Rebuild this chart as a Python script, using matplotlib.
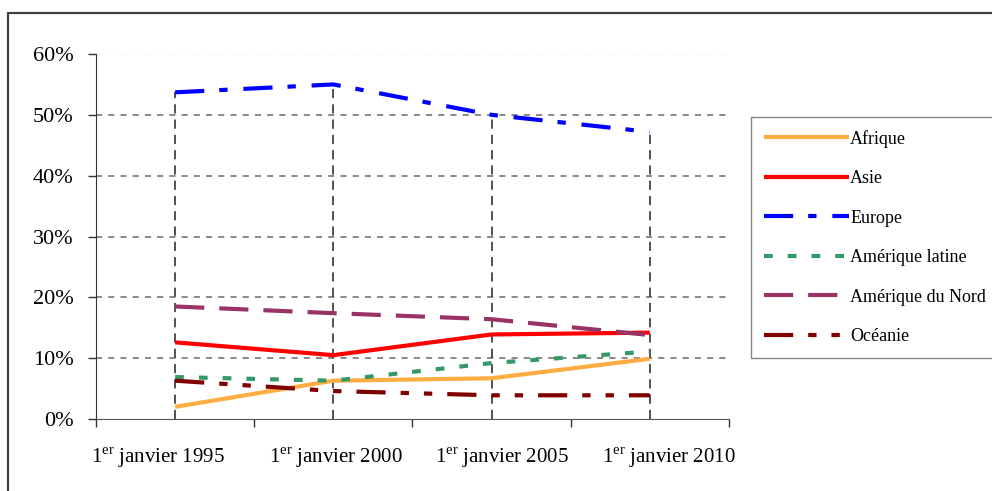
import numpy as np
import matplotlib
matplotlib.use('Agg')
import matplotlib.pyplot as plt
import matplotlib.transforms as mtransforms
from matplotlib.patches import Rectangle

plt.rcParams['font.family'] = ['Liberation Serif', 'DejaVu Serif']
plt.rcParams['mathtext.fontset'] = 'custom'
plt.rcParams['mathtext.rm'] = 'Liberation Serif'

### data (share in %)
years = ['1995', '2000', '2005', '2010']
afrique = [2.0, 6.3, 6.7, 9.9]
asie = [12.6, 10.5, 13.9, 14.2]
europe = [53.7, 55.0, 50.0, 47.2]
amerique_latine = [6.9, 6.3, 9.2, 11.1]
amerique_nord = [18.5, 17.4, 16.4, 13.8]
oceanie = [6.3, 4.6, 3.9, 3.9]

series_names = ['Afrique', 'Asie', 'Europe', 'Amérique latine',
                'Amérique du Nord', 'Océanie']
yticks = [0, 10, 20, 30, 40, 50, 60]


def main():
    series = [afrique, asie, europe, amerique_latine, amerique_nord, oceanie]
    colors = ['#FFAD42', '#FF0000', '#0000FF', '#339966', '#993366', '#800000']
    dashes = [None, None, (7, 3.6, 2, 3.8), (2.1, 3.6),
              (7, 3.6), (7, 3.6, 2, 3.6, 2, 3.6)]

    plt.close('all')
    fig = plt.figure(figsize=(9.92, 4.91), dpi=100)
    ax = fig.add_axes([0.0968, 0.1466, 0.638, 0.7434])

    x = np.arange(len(years))
    handles = []
    for vals, name, c, d in zip(series, series_names, colors, dashes):
        line, = ax.plot(x, vals, color=c, lw=3, label=name, zorder=3,
                        solid_capstyle='butt')
        if d is not None:
            line.set_dashes(d)
        handles.append(line)

    # drop lines from the top series down to the axis
    tops = np.max(np.array(series), axis=0)
    ax.vlines(x, 0, tops, colors='#222222', linestyles=(0, (6, 4)),
              lw=1.1, zorder=2)

    ax.set_xlim(-0.5, len(years) - 0.5)
    ax.set_ylim(0, 60)
    ax.set_yticks(yticks)
    ax.set_yticklabels(['{:d}%'.format(v) for v in yticks], fontsize=16)

    ax.set_xticks(np.arange(len(years) + 1) - 0.5)
    ax.set_xticklabels([])
    ax.set_xticks(x, minor=True)
    ax.set_xticklabels(['1$^{\\rm er}$ janvier ' + y for y in years],
                       minor=True, fontsize=15)
    ax.tick_params(axis='x', which='minor', length=0, pad=19)
    ax.tick_params(axis='both', which='major', length=6, width=1,
                   color='#333333', direction='out')
    ax.tick_params(axis='y', pad=10)

    # shift the category labels like the original
    offs = [-17, 3, 10, 19]
    for lab, o in zip(ax.xaxis.get_minorticklabels(), offs):
        lab.set_transform(lab.get_transform() +
                          mtransforms.ScaledTranslation(o / 100, 0, fig.dpi_scale_trans))

    ax.yaxis.grid(True, color='#6a6a6a', linestyle=(0, (4, 4)), lw=1.1)
    grid = ax.get_ygridlines()
    grid[0].set_visible(False)
    grid[-1].set_color('#f0f0f0')
    ax.set_axisbelow(True)

    ax.spines['top'].set_visible(False)
    ax.spines['right'].set_visible(False)
    ax.spines['left'].set_color('#333333')
    ax.spines['bottom'].set_color('#555555')

    leg = fig.legend(handles=handles, loc='upper left',
                     bbox_to_anchor=(751 / 992, 1 - 117 / 491),
                     fontsize=13, frameon=True, fancybox=False,
                     handlelength=4.7, handletextpad=0.1,
                     labelspacing=1.25, borderpad=0.7, borderaxespad=0)
    leg.get_frame().set_edgecolor('#666666')
    leg.get_frame().set_linewidth(1.0)

    # outer chart border (cut by the image on the right and bottom)
    fig.patches.append(Rectangle((8 / 992, -0.2), 1.2, 1.2 - 13 / 491,
                                 transform=fig.transFigure, fill=False,
                                 edgecolor='#404040', lw=1.6))

    fig.savefig('out.png', dpi=100)


if __name__ == "__main__":

    main()
